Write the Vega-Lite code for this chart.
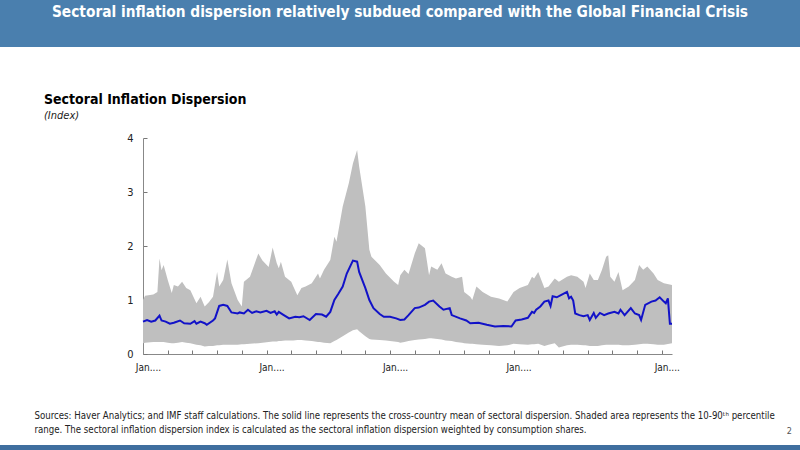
{
  "$schema": "https://vega.github.io/schema/vega-lite/v6.json",
  "padding": 0,
  "background": "white",
  "bounds": "flush",
  "spacing": 91,
  "config": {
    "view": {"stroke": null},
    "font": "DejaVu Sans Condensed, Roboto, sans-serif",
    "axis": {"labelFont": "DejaVu Sans Condensed, Roboto, sans-serif", "titleFont": "DejaVu Sans Condensed, Roboto, sans-serif"}
  },
  "datasets": {
    "band": [
      {"date": "2000-01-01", "lo": 0.20, "hi": 1.00},
      {"date": "2000-02-01", "lo": 0.21, "hi": 1.08},
      {"date": "2000-06-01", "lo": 0.22, "hi": 1.10},
      {"date": "2000-08-01", "lo": 0.22, "hi": 1.15},
      {"date": "2000-09-01", "lo": 0.22, "hi": 1.77},
      {"date": "2000-10-01", "lo": 0.22, "hi": 1.55},
      {"date": "2000-11-01", "lo": 0.22, "hi": 1.65},
      {"date": "2001-01-01", "lo": 0.21, "hi": 1.37},
      {"date": "2001-03-01", "lo": 0.20, "hi": 1.13},
      {"date": "2001-04-01", "lo": 0.20, "hi": 1.28},
      {"date": "2001-06-01", "lo": 0.21, "hi": 1.25},
      {"date": "2001-08-01", "lo": 0.22, "hi": 1.34},
      {"date": "2001-10-01", "lo": 0.21, "hi": 1.22},
      {"date": "2001-12-01", "lo": 0.20, "hi": 1.18},
      {"date": "2002-03-01", "lo": 0.17, "hi": 0.94},
      {"date": "2002-05-01", "lo": 0.16, "hi": 1.06},
      {"date": "2002-07-01", "lo": 0.14, "hi": 0.88},
      {"date": "2002-09-01", "lo": 0.15, "hi": 0.96},
      {"date": "2002-11-01", "lo": 0.15, "hi": 1.06},
      {"date": "2003-01-01", "lo": 0.16, "hi": 1.52},
      {"date": "2003-02-01", "lo": 0.16, "hi": 1.25},
      {"date": "2003-04-01", "lo": 0.17, "hi": 1.37},
      {"date": "2003-06-01", "lo": 0.17, "hi": 1.75},
      {"date": "2003-08-01", "lo": 0.17, "hi": 1.31},
      {"date": "2003-11-01", "lo": 0.17, "hi": 1.00},
      {"date": "2004-01-01", "lo": 0.18, "hi": 0.88},
      {"date": "2004-02-01", "lo": 0.18, "hi": 1.34},
      {"date": "2004-05-01", "lo": 0.19, "hi": 1.43},
      {"date": "2004-09-01", "lo": 0.20, "hi": 1.86},
      {"date": "2004-11-01", "lo": 0.21, "hi": 1.73},
      {"date": "2005-02-01", "lo": 0.22, "hi": 1.61},
      {"date": "2005-04-01", "lo": 0.23, "hi": 1.97},
      {"date": "2005-06-01", "lo": 0.23, "hi": 1.68},
      {"date": "2005-07-01", "lo": 0.24, "hi": 1.59},
      {"date": "2005-08-01", "lo": 0.24, "hi": 1.71},
      {"date": "2005-10-01", "lo": 0.25, "hi": 1.43},
      {"date": "2006-01-01", "lo": 0.25, "hi": 1.34},
      {"date": "2006-02-01", "lo": 0.25, "hi": 1.25},
      {"date": "2006-04-01", "lo": 0.26, "hi": 1.09},
      {"date": "2006-06-01", "lo": 0.26, "hi": 1.22},
      {"date": "2006-08-01", "lo": 0.25, "hi": 1.25},
      {"date": "2006-11-01", "lo": 0.24, "hi": 1.31},
      {"date": "2007-02-01", "lo": 0.22, "hi": 1.49},
      {"date": "2007-03-01", "lo": 0.22, "hi": 1.40},
      {"date": "2007-05-01", "lo": 0.21, "hi": 1.56},
      {"date": "2007-08-01", "lo": 0.20, "hi": 1.74},
      {"date": "2007-10-01", "lo": 0.24, "hi": 2.17},
      {"date": "2007-11-01", "lo": 0.26, "hi": 2.08},
      {"date": "2008-02-01", "lo": 0.33, "hi": 2.73},
      {"date": "2008-05-01", "lo": 0.40, "hi": 3.16},
      {"date": "2008-07-01", "lo": 0.44, "hi": 3.53},
      {"date": "2008-09-01", "lo": 0.46, "hi": 3.78},
      {"date": "2008-10-01", "lo": 0.42, "hi": 3.47},
      {"date": "2009-01-01", "lo": 0.33, "hi": 2.73},
      {"date": "2009-03-01", "lo": 0.28, "hi": 1.93},
      {"date": "2009-04-01", "lo": 0.27, "hi": 1.80},
      {"date": "2009-08-01", "lo": 0.26, "hi": 1.65},
      {"date": "2009-11-01", "lo": 0.25, "hi": 1.49},
      {"date": "2010-03-01", "lo": 0.23, "hi": 1.34},
      {"date": "2010-05-01", "lo": 0.22, "hi": 1.28},
      {"date": "2010-06-01", "lo": 0.21, "hi": 1.46},
      {"date": "2010-08-01", "lo": 0.22, "hi": 1.56},
      {"date": "2010-10-01", "lo": 0.24, "hi": 1.48},
      {"date": "2011-01-01", "lo": 0.26, "hi": 1.86},
      {"date": "2011-03-01", "lo": 0.27, "hi": 2.05},
      {"date": "2011-06-01", "lo": 0.28, "hi": 1.96},
      {"date": "2011-08-01", "lo": 0.29, "hi": 1.46},
      {"date": "2011-09-01", "lo": 0.29, "hi": 1.62},
      {"date": "2011-12-01", "lo": 0.28, "hi": 1.56},
      {"date": "2012-02-01", "lo": 0.27, "hi": 1.68},
      {"date": "2012-04-01", "lo": 0.25, "hi": 1.49},
      {"date": "2012-07-01", "lo": 0.24, "hi": 1.43},
      {"date": "2012-09-01", "lo": 0.22, "hi": 1.40},
      {"date": "2012-12-01", "lo": 0.21, "hi": 1.43},
      {"date": "2013-01-01", "lo": 0.20, "hi": 1.15},
      {"date": "2013-04-01", "lo": 0.19, "hi": 1.06},
      {"date": "2013-05-01", "lo": 0.19, "hi": 1.00},
      {"date": "2013-07-01", "lo": 0.18, "hi": 1.25},
      {"date": "2013-10-01", "lo": 0.17, "hi": 1.15},
      {"date": "2014-02-01", "lo": 0.16, "hi": 1.06},
      {"date": "2014-06-01", "lo": 0.15, "hi": 1.03},
      {"date": "2014-10-01", "lo": 0.16, "hi": 0.97},
      {"date": "2015-01-01", "lo": 0.19, "hi": 1.15},
      {"date": "2015-04-01", "lo": 0.18, "hi": 1.22},
      {"date": "2015-08-01", "lo": 0.17, "hi": 1.28},
      {"date": "2015-10-01", "lo": 0.18, "hi": 1.43},
      {"date": "2015-11-01", "lo": 0.18, "hi": 1.40},
      {"date": "2016-01-01", "lo": 0.19, "hi": 1.52},
      {"date": "2016-04-01", "lo": 0.15, "hi": 1.22},
      {"date": "2016-06-01", "lo": 0.17, "hi": 1.25},
      {"date": "2016-09-01", "lo": 0.20, "hi": 1.40},
      {"date": "2016-11-01", "lo": 0.12, "hi": 1.34},
      {"date": "2017-03-01", "lo": 0.16, "hi": 1.43},
      {"date": "2017-05-01", "lo": 0.17, "hi": 1.46},
      {"date": "2017-08-01", "lo": 0.17, "hi": 1.43},
      {"date": "2017-11-01", "lo": 0.16, "hi": 1.34},
      {"date": "2017-12-01", "lo": 0.16, "hi": 1.22},
      {"date": "2018-02-01", "lo": 0.15, "hi": 1.49},
      {"date": "2018-04-01", "lo": 0.15, "hi": 1.37},
      {"date": "2018-06-01", "lo": 0.15, "hi": 1.37},
      {"date": "2018-08-01", "lo": 0.16, "hi": 1.56},
      {"date": "2018-10-01", "lo": 0.17, "hi": 1.80},
      {"date": "2018-11-01", "lo": 0.17, "hi": 1.83},
      {"date": "2018-12-01", "lo": 0.17, "hi": 1.43},
      {"date": "2019-02-01", "lo": 0.17, "hi": 1.34},
      {"date": "2019-04-01", "lo": 0.17, "hi": 1.52},
      {"date": "2019-06-01", "lo": 0.16, "hi": 1.18},
      {"date": "2019-09-01", "lo": 0.16, "hi": 1.25},
      {"date": "2019-12-01", "lo": 0.17, "hi": 1.37},
      {"date": "2020-02-01", "lo": 0.18, "hi": 1.65},
      {"date": "2020-04-01", "lo": 0.19, "hi": 1.56},
      {"date": "2020-06-01", "lo": 0.19, "hi": 1.62},
      {"date": "2020-09-01", "lo": 0.18, "hi": 1.49},
      {"date": "2020-11-01", "lo": 0.17, "hi": 1.37},
      {"date": "2021-02-01", "lo": 0.17, "hi": 1.31},
      {"date": "2021-06-01", "lo": 0.20, "hi": 1.28}
    ],
    "mean": [
      {"date": "2000-01-01", "v": 0.60}, {"date": "2000-03-01", "v": 0.63}, {"date": "2000-05-01", "v": 0.60},
      {"date": "2000-07-01", "v": 0.62}, {"date": "2000-09-01", "v": 0.71}, {"date": "2000-10-01", "v": 0.62},
      {"date": "2000-12-01", "v": 0.60}, {"date": "2001-02-01", "v": 0.56}, {"date": "2001-04-01", "v": 0.58},
      {"date": "2001-07-01", "v": 0.62}, {"date": "2001-09-01", "v": 0.57}, {"date": "2001-12-01", "v": 0.56},
      {"date": "2002-02-01", "v": 0.61}, {"date": "2002-03-01", "v": 0.56}, {"date": "2002-05-01", "v": 0.60},
      {"date": "2002-07-01", "v": 0.57}, {"date": "2002-08-01", "v": 0.54}, {"date": "2002-11-01", "v": 0.62},
      {"date": "2002-12-01", "v": 0.66}, {"date": "2003-02-01", "v": 0.89}, {"date": "2003-04-01", "v": 0.91},
      {"date": "2003-06-01", "v": 0.89}, {"date": "2003-08-01", "v": 0.77}, {"date": "2003-11-01", "v": 0.75},
      {"date": "2003-12-01", "v": 0.77}, {"date": "2004-02-01", "v": 0.75}, {"date": "2004-04-01", "v": 0.82},
      {"date": "2004-06-01", "v": 0.76}, {"date": "2004-08-01", "v": 0.79}, {"date": "2004-10-01", "v": 0.77},
      {"date": "2005-01-01", "v": 0.80}, {"date": "2005-03-01", "v": 0.76}, {"date": "2005-05-01", "v": 0.79},
      {"date": "2005-06-01", "v": 0.73}, {"date": "2005-07-01", "v": 0.78}, {"date": "2005-09-01", "v": 0.73},
      {"date": "2005-12-01", "v": 0.66}, {"date": "2006-03-01", "v": 0.69}, {"date": "2006-05-01", "v": 0.68},
      {"date": "2006-07-01", "v": 0.70}, {"date": "2006-10-01", "v": 0.63}, {"date": "2007-01-01", "v": 0.74},
      {"date": "2007-04-01", "v": 0.73}, {"date": "2007-06-01", "v": 0.69}, {"date": "2007-08-01", "v": 0.78},
      {"date": "2007-10-01", "v": 1.00}, {"date": "2007-12-01", "v": 1.12}, {"date": "2008-02-01", "v": 1.25},
      {"date": "2008-04-01", "v": 1.49}, {"date": "2008-06-01", "v": 1.65}, {"date": "2008-07-01", "v": 1.73},
      {"date": "2008-09-01", "v": 1.71}, {"date": "2008-10-01", "v": 1.52}, {"date": "2009-01-01", "v": 1.22},
      {"date": "2009-03-01", "v": 1.00}, {"date": "2009-05-01", "v": 0.85}, {"date": "2009-08-01", "v": 0.74},
      {"date": "2009-10-01", "v": 0.69}, {"date": "2010-01-01", "v": 0.69}, {"date": "2010-04-01", "v": 0.66},
      {"date": "2010-06-01", "v": 0.63}, {"date": "2010-08-01", "v": 0.64}, {"date": "2010-10-01", "v": 0.72},
      {"date": "2011-01-01", "v": 0.85}, {"date": "2011-03-01", "v": 0.86}, {"date": "2011-06-01", "v": 0.91},
      {"date": "2011-08-01", "v": 0.97}, {"date": "2011-10-01", "v": 0.99}, {"date": "2012-01-01", "v": 0.88},
      {"date": "2012-03-01", "v": 0.82}, {"date": "2012-06-01", "v": 0.85}, {"date": "2012-07-01", "v": 0.72},
      {"date": "2012-11-01", "v": 0.66}, {"date": "2013-02-01", "v": 0.62}, {"date": "2013-04-01", "v": 0.57},
      {"date": "2013-08-01", "v": 0.58}, {"date": "2013-12-01", "v": 0.54}, {"date": "2014-04-01", "v": 0.51},
      {"date": "2014-08-01", "v": 0.52}, {"date": "2014-12-01", "v": 0.51}, {"date": "2015-02-01", "v": 0.62},
      {"date": "2015-05-01", "v": 0.64}, {"date": "2015-08-01", "v": 0.67}, {"date": "2015-10-01", "v": 0.78},
      {"date": "2015-11-01", "v": 0.76}, {"date": "2015-12-01", "v": 0.82}, {"date": "2016-02-01", "v": 0.88},
      {"date": "2016-04-01", "v": 0.97}, {"date": "2016-06-01", "v": 0.99}, {"date": "2016-07-01", "v": 0.89},
      {"date": "2016-08-01", "v": 1.07}, {"date": "2016-10-01", "v": 1.05}, {"date": "2016-12-01", "v": 1.09},
      {"date": "2017-03-01", "v": 1.15}, {"date": "2017-04-01", "v": 1.03}, {"date": "2017-05-01", "v": 1.06},
      {"date": "2017-06-01", "v": 0.99}, {"date": "2017-07-01", "v": 0.75}, {"date": "2017-09-01", "v": 0.72},
      {"date": "2017-11-01", "v": 0.70}, {"date": "2018-01-01", "v": 0.72}, {"date": "2018-02-01", "v": 0.63},
      {"date": "2018-04-01", "v": 0.76}, {"date": "2018-05-01", "v": 0.67}, {"date": "2018-07-01", "v": 0.76},
      {"date": "2018-09-01", "v": 0.72}, {"date": "2018-11-01", "v": 0.75}, {"date": "2019-02-01", "v": 0.78},
      {"date": "2019-04-01", "v": 0.75}, {"date": "2019-05-01", "v": 0.82}, {"date": "2019-07-01", "v": 0.72},
      {"date": "2019-10-01", "v": 0.85}, {"date": "2019-12-01", "v": 0.75}, {"date": "2020-02-01", "v": 0.72},
      {"date": "2020-03-01", "v": 0.63}, {"date": "2020-05-01", "v": 0.91}, {"date": "2020-08-01", "v": 0.97},
      {"date": "2020-10-01", "v": 0.99}, {"date": "2020-12-01", "v": 1.05}, {"date": "2021-02-01", "v": 0.97},
      {"date": "2021-03-01", "v": 0.94}, {"date": "2021-04-01", "v": 1.03}, {"date": "2021-05-01", "v": 0.56},
      {"date": "2021-06-01", "v": 0.56}
    ]
  },
  "vconcat": [
    {
      "width": 800,
      "height": 47,
      "view": {"fill": "#4a7fae", "stroke": "#2c4f78", "strokeWidth": 0},
      "data": {"values": [{"t": "Sectoral inflation dispersion relatively subdued compared with the Global Financial Crisis"}]},
      "mark": {"type": "text", "color": "white", "fontSize": 15.3, "fontWeight": "bold", "dy": -12},
      "encoding": {"text": {"field": "t"}}
    },
    {
      "width": 800,
      "height": 216,
      "title": {
        "text": "Sectoral Inflation Dispersion",
        "subtitle": "(Index)",
        "anchor": "start",
        "frame": "group",
        "dx": 44,
        "offset": 11,
        "fontSize": 14,
        "fontWeight": "bold",
        "color": "#000",
        "subtitleFontSize": 11,
        "subtitleFontStyle": "italic",
        "subtitleColor": "#222",
        "subtitlePadding": 3
      },
      "layer": [
        {
          "data": {"name": "band"},
          "mark": {"type": "area", "color": "#bfbfbf", "opacity": 1},
          "encoding": {
            "x": {
              "field": "date",
              "type": "temporal",
              "scale": {"domain": ["2000-01-01", "2021-06-01"], "range": [143, 672]},
              "axis": {
                "tickCount": {"interval": "year", "step": 1},
                "labelExpr": "indexof([2000, 2005, 2010, 2015, 2021], year(datum.value)) >= 0 ? 'Jan....' : ''",
                "labelOverlap": false,
                "labelFlush": false,
                "labelOffset": 5,
                "labelFontSize": 10,
                "labelColor": "#222",
                "labelPadding": 12,
                "tickSize": -4,
                "tickColor": "#777",
                "domainColor": "#888",
                "grid": false,
                "title": [
                  "Sources: Haver Analytics; and IMF staff calculations. The solid line represents the cross-country mean of sectoral dispersion. Shaded area represents the 10-90ᵗʰ percentile",
                  "range. The sectoral inflation dispersion index is calculated as the sectoral inflation dispersion weighted by consumption shares."
                ],
                "titleX": 34,
                "titleY": 64,
                "titleAlign": "left",
                "titleAnchor": "start",
                "titleBaseline": "alphabetic",
                "titleFontSize": 9.6,
                "titleFontWeight": "normal",
                "titleColor": "#222",
                "titleLineHeight": 14.5
              }
            },
            "y": {
              "field": "lo",
              "type": "quantitative",
              "scale": {"domain": [0, 4]},
              "axis": {
                "offset": -143,
                "values": [0, 0.5, 1, 1.5, 2, 2.5, 3, 3.5, 4],
                "format": ".0f",
                "labelExpr": "datum.value % 1 == 0 ? datum.label : ''",
                "labelFontSize": 11,
                "labelColor": "#222",
                "labelPadding": 14,
                "tickSize": -4,
                "tickColor": "#777",
                "domainColor": "#888",
                "grid": false,
                "title": null
              }
            },
            "y2": {"field": "hi"}
          }
        },
        {
          "data": {"name": "mean"},
          "mark": {"type": "line", "color": "#1212c8", "strokeWidth": 2},
          "encoding": {
            "x": {"field": "date", "type": "temporal"},
            "y": {"field": "v", "type": "quantitative"}
          }
        }
      ]
    },
    {
      "width": 800,
      "height": 5,
      "title": {"text": "2", "anchor": "end", "fontSize": 9, "fontWeight": "normal", "color": "#555", "offset": 9, "dx": -8},
      "data": {"values": [{}]},
      "mark": {"type": "rect", "color": "#3f6f9f"}
    }
  ]
}
